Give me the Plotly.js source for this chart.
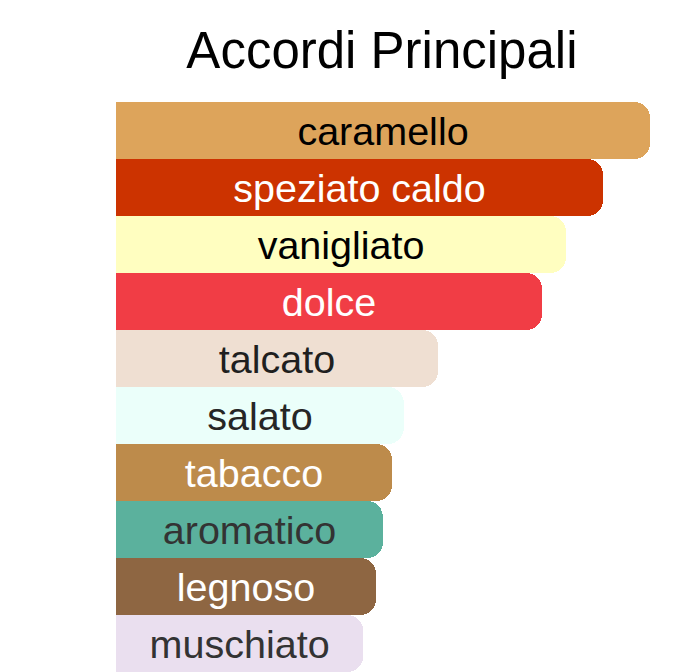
<!DOCTYPE html>
<html>
<head>
<meta charset="utf-8">
<script src="https://cdn.plot.ly/plotly-3.0.1.min.js"></script>
<style>
  html, body { margin: 0; padding: 0; background: #ffffff; }
  #chart { width: 676px; height: 672px; }
</style>
</head>
<body>
<div id="chart"></div>
<script>
// accordi, from the top down
var accordi = ["caramello", "speziato caldo", "vanigliato", "dolce", "talcato",
               "salato", "tabacco", "aromatico", "legnoso", "muschiato"];
var intensita = [100, 91.2, 84.3, 79.8, 60.3, 53.9, 51.7, 50.0, 48.7, 46.3];
var coloriBarre = ["#DDA45B", "#CC3300", "#FFFEC0", "#F13D45", "#EFDFD2",
                   "#EBFFFA", "#BD8B4B", "#5BB19D", "#8E6642", "#EADFEF"];
var coloriTesto = ["#000000", "#ffffff", "#000000", "#ffffff", "#1f1f1f",
                   "#262626", "#ffffff", "#333333", "#ffffff", "#333333"];

window.drawAccordi = () => {

    var div = document.getElementById("chart");

    var data = [
        {
            type: "bar",
            orientation: "h",
            x: intensita,
            y: accordi,
            text: accordi,
            textposition: "inside",
            insidetextanchor: "middle",
            constraintext: "none",
            textfont: { family: "Liberation Sans, Arial, sans-serif", size: 39.5, color: coloriTesto },
            marker: { color: coloriBarre, line: { width: 0 }, cornerradius: 16 },
            hoverinfo: "none",
            showlegend: false
        }
    ];

    var layout = {
        width: 676,
        height: 672,
        margin: { t: 102, r: 26, l: 116, b: 0 },
        paper_bgcolor: "#ffffff",
        plot_bgcolor: "#ffffff",
        title: {
            text: "Accordi Principali",
            font: { family: "Liberation Sans, Arial, sans-serif", size: 51, color: "#000000" },
            x: 0.565,
            xanchor: "center",
            y: 0.926,
            yanchor: "middle"
        },
        bargap: 0,
        xaxis: { range: [0, 100], visible: false, fixedrange: true },
        yaxis: { autorange: "reversed", visible: false, fixedrange: true },
        font: { family: "Liberation Sans, Arial, sans-serif" }
    };

    var config = { displayModeBar: false, staticPlot: true };

    Plotly.newPlot(div, data, layout, config);
};

window.drawAccordi();
</script>
</body>
</html>
